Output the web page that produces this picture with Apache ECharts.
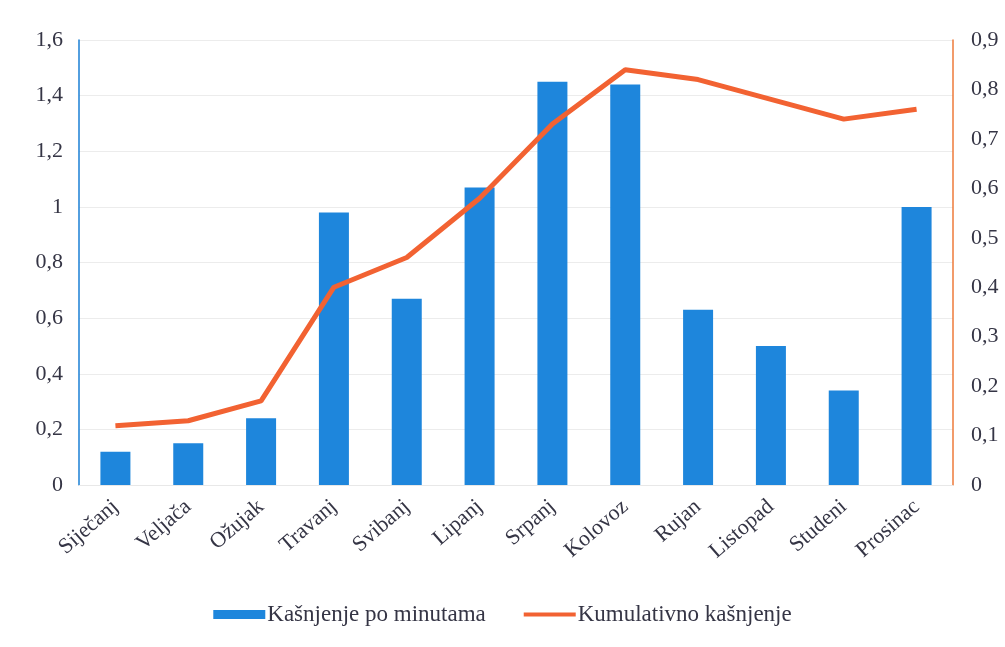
<!DOCTYPE html>
<html>
<head>
<meta charset="utf-8">
<script src="https://cdn.jsdelivr.net/npm/echarts@6/dist/echarts.min.js"></script>
<style>
html,body{margin:0;padding:0;background:#ffffff;}
#chart{width:1005px;height:647px;}
</style>
</head>
<body>
<div id="chart"></div>
<script>
const categories = ['Siječanj','Veljača','Ožujak','Travanj','Svibanj','Lipanj','Srpanj','Kolovoz','Rujan','Listopad','Studeni','Prosinac'];
const delayMinutes = [0.12, 0.15, 0.24, 0.98, 0.67, 1.07, 1.45, 1.44, 0.63, 0.50, 0.34, 1.00];
const cumulativeDelay = [0.12, 0.13, 0.17, 0.40, 0.46, 0.58, 0.73, 0.84, 0.82, 0.78, 0.74, 0.76];
const seriesNames = ['Kašnjenje po minutama', 'Kumulativno kašnjenje'];

const fmt = v => String(v).replace('.', ',');
const txt = '#353545';
const font = '"Liberation Serif", "DejaVu Serif", serif';

const chart = echarts.init(document.getElementById('chart'));
chart.setOption({
  backgroundColor: '#ffffff',
  animation: false,
  textStyle: { fontFamily: font, color: txt },
  grid: { left: 79, right: 52, top: 40, bottom: 162 },
  legend: {
    bottom: 16,
    left: 'center',
    itemGap: 38,
    itemWidth: 52,
    itemHeight: 9,
    textStyle: { fontFamily: font, fontSize: 23, color: txt, padding: [0, 0, 0, -3] },
    data: [
      { name: seriesNames[0], icon: 'rect' },
      { name: seriesNames[1], icon: 'path://M0,0 L52,0 L52,4 L0,4 Z' }
    ]
  },
  xAxis: {
    type: 'category',
    data: categories,
    axisLine: { show: true, lineStyle: { color: '#e8e8e8' } },
    axisTick: { show: false },
    axisLabel: { rotate: 41, margin: 19, fontSize: 22, color: txt, fontFamily: font }
  },
  yAxis: [
    {
      type: 'value', min: 0, max: 1.6, interval: 0.2,
      axisLine: { show: true, lineStyle: { color: '#1a7fd4', width: 1.5 } },
      axisTick: { show: false },
      splitLine: { show: true, lineStyle: { color: '#ececec' } },
      axisLabel: { formatter: fmt, fontSize: 22, color: txt, fontFamily: font, margin: 16 }
    },
    {
      type: 'value', min: 0, max: 0.9, interval: 0.1,
      axisLine: { show: true, lineStyle: { color: '#ee7a3a', width: 1.5 } },
      axisTick: { show: false },
      splitLine: { show: false },
      axisLabel: { formatter: fmt, fontSize: 22, color: txt, fontFamily: font, margin: 18 }
    }
  ],
  series: [
    {
      name: seriesNames[0],
      type: 'bar',
      yAxisIndex: 0,
      data: delayMinutes,
      barWidth: 30,
      itemStyle: { color: '#1e86dc' }
    },
    {
      name: seriesNames[1],
      type: 'line',
      yAxisIndex: 1,
      data: cumulativeDelay,
      symbol: 'none',
      lineStyle: { color: '#f26232', width: 5 },
      itemStyle: { color: '#f26232' }
    }
  ]
});
</script>
</body>
</html>
